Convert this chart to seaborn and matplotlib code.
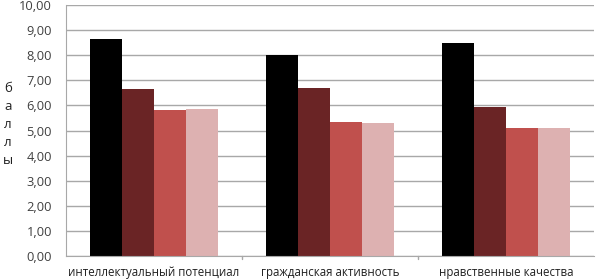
import pandas as pd
import matplotlib
matplotlib.use("Agg")
import matplotlib.pyplot as plt
import seaborn as sns

categories = ["интеллектуальный потенциал", "гражданская активность", "нравственные качества"]
series = ["s1", "s2", "s3", "s4"]
values_s1 = [8.65, 8.00, 8.48]
values_s2 = [6.65, 6.68, 5.92]
values_s3 = [5.80, 5.34, 5.10]
values_s4 = [5.85, 5.30, 5.10]
colors = ["#000000", "#6A2425", "#C0504D", "#DDB1B1"]

rows = []
for name, vals in zip(series, [values_s1, values_s2, values_s3, values_s4]):
    for cat, v in zip(categories, vals):
        rows.append({"cat": cat, "series": name, "value": v})
df = pd.DataFrame(rows)

sns.set_style("white")
plt.rcParams["font.family"] = ["Open Sans", "DejaVu Sans"]

fig = plt.figure(figsize=(5.96, 2.8), dpi=100)
ax = fig.add_axes([66 / 596, 24 / 280, 528 / 596, 251 / 280])

sns.barplot(data=df, x="cat", y="value", hue="series", palette=colors,
            width=0.725, saturation=1, legend=False, ax=ax)
for p in ax.patches:
    p.set_edgecolor("none")

ax.set_ylim(0, 10)
ax.set_xlim(-0.5, 2.5)
ax.set_yticks([i for i in range(11)])
ax.set_yticklabels([f"{i},00" for i in range(11)], fontsize=9.3, color="#404040")
ax.set_xticks(range(3))
ax.set_xticklabels(categories, fontsize=8.3, color="#202020")
ax.yaxis.grid(True, color="#A8A8A8", linewidth=1)
ax.set_axisbelow(True)
ax.set_xlabel("")
ax.set_ylabel("")
for s in ["top", "right"]:
    ax.spines[s].set_visible(False)
ax.spines["left"].set_color("#A8A8A8")
ax.spines["bottom"].set_color("#A8A8A8")
ax.tick_params(axis="y", length=4, color="#A8A8A8", pad=6)
ax.tick_params(axis="x", length=0, pad=7)
for xb in [0.5, 1.5]:
    ax.plot([xb, xb], [0, -0.12], color="#A8A8A8", lw=1, clip_on=False)

fig.text(8 / 596, 1 - 125 / 280, "б\nа\nл\nл\nы", ha="center", va="center",
         fontsize=9.5, linespacing=1.5, color="#202020")

fig.savefig("out.png", dpi=100)
